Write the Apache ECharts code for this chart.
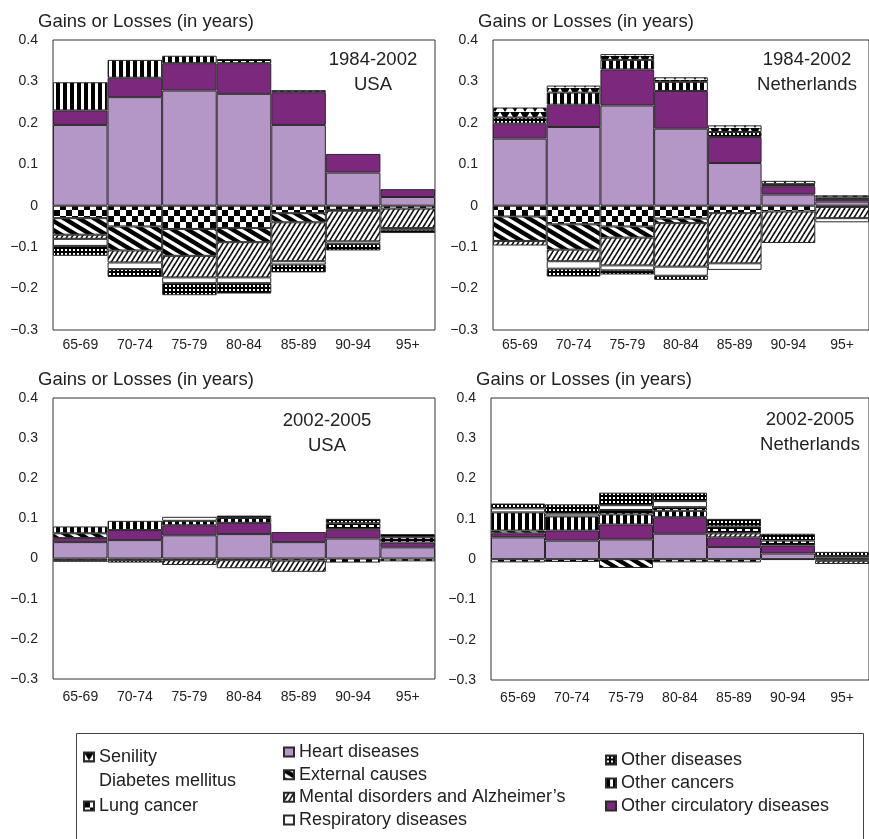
<!DOCTYPE html>
<html><head><meta charset="utf-8">
<script src="https://cdn.jsdelivr.net/npm/echarts@6/dist/echarts.min.js"></script>
<style>html,body{margin:0;padding:0;background:#fff}#c{width:869px;height:839px}</style>
</head><body><div id="c"></div>
<script>
const categories = ['65-69','70-74','75-79','80-84','85-89','90-94','95+'];
const seriesNames = ['Heart diseases','Other circulatory diseases','Lung cancer','External causes',
  "Mental disorders and Alzheimer\u2019s",'Other cancers','Diabetes mellitus','Respiratory diseases',
  'Other diseases','Senility'];
const yMin = -0.3, yMax = 0.4, yStep = 0.1;
const axisTitle = 'Gains or Losses (in years)';

// Panel 1: 1984-2002 USA
const p1Heart         = [0.195, 0.262, 0.278, 0.270, 0.195, 0.080, 0.021];
const p1OtherCirc     = [0.035, 0.047, 0.066, 0.074, 0.079, 0.045, 0.019];
const p1Lung          = [-0.030, -0.050, -0.056, -0.054, -0.018, -0.010, -0.007];
const p1External      = [-0.040, -0.058, -0.065, -0.034, -0.022, -0.002, 0];
const p1Mental        = [-0.010, -0.029, -0.052, -0.085, -0.094, -0.074, -0.047];
const p1OtherCancers  = [0.068, 0.043, 0.018, 0, 0.005, 0, 0];
const p1Diabetes      = [0, 0, 0, 0.010, 0, 0, 0];
const p1Respiratory   = [-0.017, -0.016, -0.014, -0.014, -0.008, -0.006, -0.004];
const p1OtherDiseases = [-0.024, -0.019, -0.029, -0.025, -0.019, -0.016, -0.008];
const p1Senility      = [0, 0, 0, 0, 0, 0, 0];

// Panel 2: 1984-2002 Netherlands
const p2Heart         = [0.162, 0.190, 0.242, 0.186, 0.103, 0.027, 0.010];
const p2OtherCirc     = [0.036, 0.054, 0.087, 0.091, 0.063, 0.020, 0.006];
const p2Lung          = [-0.026, -0.045, -0.050, -0.031, -0.018, -0.014, -0.003];
const p2External      = [-0.059, -0.061, -0.027, -0.011, 0, 0, 0];
const p2Mental        = [-0.011, -0.028, -0.067, -0.105, -0.121, -0.076, -0.027];
const p2OtherCancers  = [0, 0.029, 0.023, 0.022, 0, 0.003, 0];
const p2Diabetes      = [0, 0, 0, 0, 0, 0, 0];
const p2Respiratory   = [0, -0.018, -0.012, -0.022, -0.016, 0, -0.010];
const p2OtherDiseases = [0.015, -0.019, -0.010, -0.010, 0.012, 0.002, 0.004];
const p2Senility      = [0.024, 0.017, 0.014, 0.011, 0.016, 0.008, 0.005];

// Panel 3: 2002-2005 USA
const p3Heart         = [0.041, 0.046, 0.058, 0.061, 0.041, 0.050, 0.028];
const p3OtherCirc     = [0.010, 0.025, 0.025, 0.028, 0.025, 0.023, 0.012];
const p3Lung          = [-0.004, -0.004, -0.004, -0.004, -0.005, -0.010, -0.007];
const p3External      = [0.012, 0, 0, 0, 0, 0, 0];
const p3Mental        = [0, 0, -0.012, -0.020, -0.028, 0, 0];
const p3OtherCancers  = [0.017, 0.023, 0.011, 0.012, 0, 0, 0];
const p3Diabetes      = [0, 0, 0, 0, 0, 0.015, 0.013];
const p3Respiratory   = [0, 0, 0.010, 0, 0, 0, 0];
const p3OtherDiseases = [-0.004, -0.006, 0, 0.006, 0, 0.011, 0.008];
const p3Senility      = [0, 0, 0, 0, 0, 0, 0];

// Panel 4: 2002-2005 Netherlands
const p4Heart         = [0.054, 0.046, 0.049, 0.063, 0.030, 0.014, 0.004];
const p4OtherCirc     = [0.010, 0.025, 0.037, 0.041, 0.024, 0.020, 0.004];
const p4Lung          = [-0.008, -0.007, 0, -0.008, -0.008, -0.002, -0.004];
const p4External      = [0.007, 0, -0.022, 0, 0, 0, 0];
const p4Mental        = [0, 0, 0, 0, 0.010, 0, -0.008];
const p4OtherCancers  = [0.045, 0.035, 0.025, 0.016, 0, 0, 0];
const p4Diabetes      = [0, 0, 0.011, 0.009, 0.017, 0.012, 0];
const p4Respiratory   = [0.010, 0.007, 0.012, 0.015, 0, 0, 0];
const p4OtherDiseases = [0.012, 0.023, 0.031, 0.021, 0.019, 0.017, 0.010];
const p4Senility      = [0, 0, 0, 0, 0, 0, 0];

const panelData = [
  [p1Heart,p1OtherCirc,p1Lung,p1External,p1Mental,p1OtherCancers,p1Diabetes,p1Respiratory,p1OtherDiseases,p1Senility],
  [p2Heart,p2OtherCirc,p2Lung,p2External,p2Mental,p2OtherCancers,p2Diabetes,p2Respiratory,p2OtherDiseases,p2Senility],
  [p3Heart,p3OtherCirc,p3Lung,p3External,p3Mental,p3OtherCancers,p3Diabetes,p3Respiratory,p3OtherDiseases,p3Senility],
  [p4Heart,p4OtherCirc,p4Lung,p4External,p4Mental,p4OtherCancers,p4Diabetes,p4Respiratory,p4OtherDiseases,p4Senility]
];
const panelLabels = ['1984-2002\nUSA','1984-2002\nNetherlands','2002-2005\nUSA','2002-2005\nNetherlands'];

// ---- layout / style ----
const FONT = "'Liberation Sans', Arial, Helvetica, sans-serif";
const grids = [
  {left:53, top:40, width:382, height:290},
  {left:493, top:40, width:382, height:290},
  {left:53, top:398, width:382, height:281},
  {left:491, top:398, width:384, height:282}
];
const labelMarginX = [8, 8, 11, 11];
const titlePos = [[38,12],[478,12],[38,370],[476,370]];
const notePos = [[373,72.5],[807,72],[327,433.5],[810,432]];

function mk(w, h, draw) {
  const c = document.createElement('canvas');
  c.width = w; c.height = h;
  const g = c.getContext('2d');
  draw(g, w, h);
  return {image: c, repeat: 'repeat'};
}
const patChecker = mk(12,12,(g)=>{g.fillStyle='#fff';g.fillRect(0,0,12,12);g.fillStyle='#000';g.fillRect(0,0,6,6);g.fillRect(6,6,6,6);});
const patThickDiag = mk(30,18,(g,w,h)=>{g.fillStyle='#fff';g.fillRect(0,0,w,h);g.strokeStyle='#000';g.lineWidth=4.5;
  for(let c=-60;c<=60;c+=15){g.beginPath();g.moveTo(c-30,-18);g.lineTo(c+60,36);g.stroke();}});
const patHatch = mk(5,8,(g,w,h)=>{g.fillStyle='#fff';g.fillRect(0,0,w,h);g.strokeStyle='#111';g.lineWidth=1.7;
  for(let c=-20;c<=20;c+=5){g.beginPath();g.moveTo(c-5,16);g.lineTo(c+10,-8);g.stroke();}});
const patVStripes = mk(7,2,(g)=>{g.fillStyle='#fff';g.fillRect(0,0,7,2);g.fillStyle='#000';g.fillRect(0,0,4,2);});
const patDots = mk(4,4,(g)=>{g.fillStyle='#000';g.fillRect(0,0,4,4);g.fillStyle='#fff';g.fillRect(1,1,2,2);});
const patTri = mk(10,8,(g)=>{g.fillStyle='#fff';g.fillRect(0,0,10,8);g.fillStyle='#000';g.beginPath();g.moveTo(0,0);g.lineTo(10,0);g.lineTo(5,8);g.closePath();g.fill();});
const patDash = mk(8,4,(g)=>{g.fillStyle='#000';g.fillRect(0,0,8,4);g.fillStyle='#fff';g.fillRect(1,1,5,2);});

const fills = ['#b597c7','#7c287d',patChecker,patThickDiag,patHatch,patVStripes,patDash,'#ffffff',patDots,patTri];

function fmtY(v){ const r = Math.round(v*10)/10; if (r === 0) return '0'; return r < 0 ? '\u2212' + Math.abs(r) : String(r); }

const option = {
  animation: false,
  textStyle: {fontFamily: FONT},
  grid: grids.map(g => Object.assign({show:true, borderColor:'#333', borderWidth:1, backgroundColor:'transparent'}, g)),
  xAxis: grids.map((g,i) => ({type:'category', gridIndex:i, data:categories, position:'bottom',
    axisLine:{show:false}, axisTick:{show:false},
    axisLabel:{fontSize:14, color:'#222', margin:labelMarginX[i], interval:0, fontFamily:FONT}})),
  yAxis: grids.map((g,i) => ({type:'value', gridIndex:i, min:yMin, max:yMax, interval:yStep,
    axisLine:{show:false}, axisTick:{show:false}, splitLine:{show:false},
    axisLabel:{fontSize:14, color:'#222', margin:15, formatter:fmtY, fontFamily:FONT}})),
  title: titlePos.map(p => ({text:axisTitle, left:p[0], top:p[1], padding:0,
    textStyle:{fontSize:18.5, fontWeight:'normal', color:'#222', fontFamily:FONT}})),
  legend: [
    {left:83, top:745, orient:'vertical', itemWidth:10, itemHeight:9, itemGap:0.5, icon:'rect', padding:0, selectedMode:false,
      textStyle:{fontSize:18, lineHeight:24, color:'#222', fontFamily:FONT},
      data:['Senility', {name:'Diabetes mellitus', itemStyle:{color:'transparent', borderColor:'transparent', borderWidth:0}}, 'Lung cancer']},
    {left:283, top:740.6, orient:'vertical', itemWidth:10, itemHeight:9, itemGap:0, icon:'rect', padding:0, selectedMode:false,
      textStyle:{fontSize:18, lineHeight:22.7, color:'#222', fontFamily:FONT},
      data:['Heart diseases','External causes',"Mental disorders and Alzheimer\u2019s",'Respiratory diseases']},
    {left:605, top:748.5, orient:'vertical', itemWidth:10, itemHeight:9, itemGap:0, icon:'rect', padding:0, selectedMode:false,
      textStyle:{fontSize:18, lineHeight:23, color:'#222', fontFamily:FONT},
      data:['Other diseases','Other cancers','Other circulatory diseases']}
  ],
  graphic: [
    {type:'rect', left:74, top:731, shape:{width:787, height:106}, style:{fill:'none', stroke:'#444', lineWidth:1}, silent:true}
  ].concat(notePos.map((p,i) => ({type:'text', x:p[0], y:p[1], silent:true,
    style:{text:panelLabels[i], align:'center', verticalAlign:'middle', fontSize:18.5, lineHeight:25, fill:'#222', fontFamily:FONT}}))),
  series: []
};

panelData.forEach((arrs, p) => {
  arrs.forEach((arr, i) => {
    option.series.push({
      type:'bar', name:seriesNames[i], xAxisIndex:p, yAxisIndex:p, stack:'s'+p,
      barCategoryGap:0, barGap:0,
      data: arr.map(v => v === 0 ? '-' : v),
      itemStyle:{color:fills[i], borderColor:'#2a2a2a', borderWidth:1},
      emphasis:{disabled:true}
    });
  });
});

const chart = echarts.init(document.getElementById('c'), null, {renderer:'canvas'});
chart.setOption(option);
</script></body></html>
